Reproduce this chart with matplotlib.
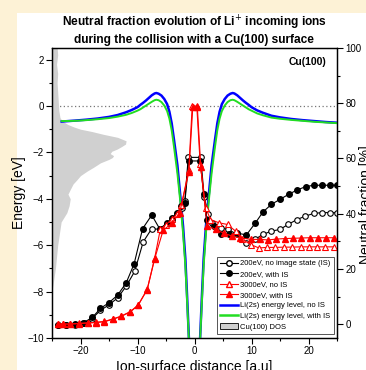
import matplotlib
matplotlib.use("Agg")
import matplotlib.pyplot as plt
from matplotlib.patches import Rectangle, Patch
from matplotlib.lines import Line2D
from matplotlib.ticker import MultipleLocator

plt.rcParams['font.family'] = ['Liberation Sans', 'DejaVu Sans']

# ---------------- data ----------------
# 200 eV, no image state (open circles)
x_200_noIS = [-24, -22.5, -21, -19.5, -18, -16.5, -15, -13.5, -12, -10.5, -9, -7.5, -6, -4.8,
              -3.9, -3.0, -2.2, -1.7, -1.1, 1.1, 1.7, 2.4, 3.1, 4.6, 5.9, 7.5, 9.1, 10.6, 12,
              13.5, 15, 16.4, 18, 19.4, 20.9, 22.4, 23.7, 25]
y_200_noIS = [-0.3, -0.3, -0.2, 0.3, 2.0, 5.0, 7.0, 9.5, 13.7, 19.1, 29.8, 34.6, 34.3, 36.2,
              37.9, 39.8, 42.2, 44.5, 60.4, 60.4, 46.0, 40.0, 36.7, 34.9, 34.3, 32.5, 29.5, 30.7, 32.5,
              33.7, 34.3, 36.1, 37.9, 39.1, 40.1, 40.4, 40.4, 40.4]

# 200 eV, with IS (filled circles)
x_200_IS = [-24, -22.5, -20.9, -19.4, -17.9, -16.5, -15, -13.5, -12, -10.6, -9.1, -7.5, -6.1,
            -4.8, -3.9, -3.0, -2.3, -1.7, -1.0, 1.0, 1.6, 2.2, 3.4, 4.7, 6.0, 7.5, 9.1, 10.7,
            12, 13.5, 15, 16.5, 18, 19.5, 20.9, 22.3, 23.7, 25]
y_200_IS = [-0.3, -0.3, 0.0, 0.6, 2.5, 5.7, 7.8, 10.5, 14.9, 21.8, 34.6, 39.5, 34.5,
            36.7, 38.5, 40.4, 42.8, 44.0, 59.1, 59.1, 47.0, 37.9, 35.5, 32.7, 32.5, 33.0, 32.3, 36.7,
            40.6, 43.4, 45.2, 47.0, 48.6, 49.8, 50.3, 50.3, 50.3, 50.3]

# 3000 eV, no IS (open triangles)
x_3000_noIS = [-24, -23, -21.8, -20.3, -18.7, -17.2, -15.8, -14.3, -12.9, -11.3, -9.9, -8.3, -7.0,
               -6.0, -5.0, -4.0, -3.0, -2.3, -1.0, -0.4, 0.4, 1.0, 2.0, 2.8, 4.3, 5.8, 7.2, 8.4,
               9.9, 11.3, 12.7, 14.2, 15.7, 17.1, 18.6, 20.0, 21.5, 22.9, 24.4]
y_3000_noIS = [0.1, 0.1, 0.1, 0.3, 0.5, 0.7, 1.0, 1.9, 2.9, 4.5, 6.9, 12.6, 23.8,
               34.3, 36.0, 38.0, 40.0, 43.0, 56.0, 79.0, 79.0, 58.0, 42.0, 37.9, 36.7, 36.1, 33.7, 30.7,
               28.8, 27.6, 27.8, 27.8, 27.9, 27.9, 28.0, 28.0, 28.0, 28.0, 28.0]

# 3000 eV, with IS (filled triangles)
x_3000_IS = [-24, -23, -21.8, -20.3, -18.7, -17.2, -15.8, -14.3, -12.9, -11.3, -9.9, -8.3, -7.0,
             -5.5, -3.9, -2.6, -1.0, -0.3, 0.5, 1.1, 2.2, 3.7, 5.1, 6.6, 8.0, 9.9, 11.5, 12.9,
             14.3, 15.8, 17.3, 18.7, 20.2, 21.6, 23.1, 24.5]
y_3000_IS = [0.0, 0.0, 0.0, 0.2, 0.4, 0.6, 0.9, 1.8, 2.8, 4.4, 6.8, 12.5, 23.6,
             34.0, 36.7, 40.4, 55.0, 78.5, 78.5, 57.0, 35.7, 34.3, 33.0, 31.9, 31.3, 30.7, 30.7, 30.5,
             30.8, 31.0, 31.1, 31.2, 31.3, 31.3, 31.3, 31.3]

# Li(2s) energy level (eV) vs distance
z_level = [-23.3, -21, -19, -17, -15, -13.5, -12, -11, -10, -9.5, -9, -8.5, -8, -7.5, -7,
           -6.7, -6.3, -5.8, -5.3, -4.8, -4.4, -4.0, -3.6, -3.0, -2.5, -2.0, -1.6, -1.3, -1.0, -0.8,
           0.8, 1.0, 1.3, 1.6, 2.0, 2.5, 3.0, 3.6, 4.0, 4.4, 4.8, 5.3, 5.8, 6.3, 6.7,
           7, 7.5, 8, 8.5, 9, 9.5, 10, 11, 12, 13.5, 15, 17, 19, 21, 23, 25]
E_noIS = [-0.67, -0.63, -0.59, -0.54, -0.47, -0.39, -0.27, -0.17, -0.05, 0.05, 0.14, 0.24,
          0.35, 0.46, 0.54, 0.56, 0.53, 0.45, 0.30, 0.08, -0.25, -0.75, -1.45, -2.55, -3.85, -5.2,
          -6.6, -8.2, -9.9, -11.0,
          -11.0, -9.9, -8.2, -6.6, -5.2, -3.85, -2.55, -1.45, -0.75, -0.25, 0.08, 0.30, 0.45, 0.53,
          0.56, 0.54, 0.46, 0.35, 0.24, 0.14, 0.05, -0.05, -0.19, -0.29, -0.42, -0.49, -0.56, -0.61,
          -0.65, -0.69, -0.72]
E_IS = [-0.65, -0.64, -0.61, -0.57, -0.52, -0.46, -0.38, -0.30, -0.20, -0.14, -0.06, 0.02,
        0.10, 0.18, 0.25, 0.27, 0.25, 0.17, 0.02, -0.22, -0.55, -1.05, -1.75, -2.9, -4.1, -5.5,
        -6.9, -8.4, -10.0, -11.0,
        -11.0, -10.0, -8.4, -6.9, -5.5, -4.1, -2.9, -1.75, -1.05, -0.55, -0.22, 0.02, 0.17, 0.25,
        0.27, 0.25, 0.18, 0.10, 0.02, -0.06, -0.14, -0.20, -0.32, -0.40, -0.50, -0.55, -0.60, -0.64,
        -0.68, -0.71, -0.74]

# Cu(100) DOS (energy, DOS width in distance units)
dos_E = [2.55, 2.2, 1.8, 1.4, 1.0, 0.6, 0.2, -0.2, -0.5, -0.65, -0.8, -0.9, -1.0, -1.1, -1.22,
         -1.35, -1.5, -1.64, -1.75, -1.86, -1.95, -2.05, -2.14, -2.22, -2.3, -2.45, -2.64, -2.8,
         -3.0, -3.2, -3.36, -3.6, -3.8, -4.0, -4.3, -4.6, -5.0, -5.5, -6.0, -6.5, -7.0, -7.5, -8.0]
dos_w = [0.9, 1.0, 0.8, 1.0, 0.9, 1.0, 1.1, 1.2, 1.4, 1.8, 2.8, 3.8, 5.0, 7.0, 9.0,
         11.5, 13.0, 12.9, 12.2, 11.4, 10.5, 10.2, 10.8, 10.6, 10.0, 8.5, 7.3, 6.2,
         5.0, 4.3, 3.7, 3.2, 2.8, 3.2, 3.0, 2.6, 1.6, 1.3, 1.0, 0.8, 0.6, 0.3, 0.0]

labels = ["200eV, no image state (IS)", "200eV, with IS", "3000eV, no IS", "3000eV, with IS",
          "Li(2s) energy level, no IS", "Li(2s) energy level, with IS", "Cu(100) DOS"]

title = "Neutral fraction evolution of Li$^{+}$ incoming ions\nduring the collision with a Cu(100) surface"

# ---------------- figure ----------------
W, H = 366, 370
fig = plt.figure(figsize=(W / 100, H / 100), dpi=100)
fig.patch.set_facecolor('#fdf2d6')
fig.patches.append(Rectangle((17 / W, 0), 1 - 17 / W, 1 - 13 / H, transform=fig.transFigure,
                             facecolor='white', edgecolor='none', zorder=-5))

ax = fig.add_axes([52 / W, 32 / H, 285 / W, 290 / H])
ax.set_xlim(-25, 25)
ax.set_ylim(-10, 2.5)
ax.patch.set_alpha(0)

ax.axhline(0, color='#777777', lw=0.9, ls=(0, (1, 2)), zorder=1)
ax.fill_betweenx(dos_E, -25, [-25 + w for w in dos_w], color='#d0d0d0', lw=0, zorder=2)
ax.plot(z_level, E_noIS, color='#0000ff', lw=1.8, zorder=3)
ax.plot(z_level, E_IS, color='#22dd22', lw=1.4, zorder=4)

ax.xaxis.set_major_locator(MultipleLocator(10))
ax.xaxis.set_minor_locator(MultipleLocator(5))
ax.yaxis.set_major_locator(MultipleLocator(2))
ax.yaxis.set_minor_locator(MultipleLocator(1))
ax.tick_params(which='both', direction='out', labelsize=7, width=0.8, pad=2)
ax.tick_params(which='major', length=4)
ax.tick_params(which='minor', length=2)
ax.set_ylabel("Energy [eV]", fontsize=10, labelpad=1)
ax.set_xlabel("Ion-surface distance [a.u]", fontsize=10, labelpad=3)

ax2 = ax.twinx()
ax2.set_ylim(-5, 100)
ax2.plot(x_200_noIS, y_200_noIS, color='black', lw=0.8, marker='o', ms=4, mfc='white', mec='black', mew=0.8)
ax2.plot(x_200_IS, y_200_IS, color='black', lw=0.8, marker='o', ms=4, mfc='black', mec='black')
ax2.plot(x_3000_noIS, y_3000_noIS, color='#ff0000', lw=0.8, marker='^', ms=4.5, mfc='white', mec='#ff0000', mew=0.8)
ax2.plot(x_3000_IS, y_3000_IS, color='#ff0000', lw=0.8, marker='^', ms=4.5, mfc='#ff0000', mec='#ff0000')
ax2.yaxis.set_major_locator(MultipleLocator(20))
ax2.yaxis.set_minor_locator(MultipleLocator(10))
ax2.tick_params(which='both', direction='out', labelsize=7, width=0.8, pad=2)
ax2.tick_params(which='major', length=4)
ax2.tick_params(which='minor', length=2)
for a in (ax, ax2):
    for s in a.spines.values():
        s.set_linewidth(0.9)

ax2.text(0.895, 0.952, "Cu(100)", transform=ax2.transAxes, fontsize=7.5, fontweight='bold',
         ha='center', va='center')

handles = [
    Line2D([], [], color='black', lw=0.8, marker='o', ms=4, mfc='white', mec='black'),
    Line2D([], [], color='black', lw=0.8, marker='o', ms=4, mfc='black', mec='black'),
    Line2D([], [], color='#ff0000', lw=0.8, marker='^', ms=4.5, mfc='white', mec='#ff0000'),
    Line2D([], [], color='#ff0000', lw=0.8, marker='^', ms=4.5, mfc='#ff0000', mec='#ff0000'),
    Line2D([], [], color='#0000ff', lw=1.8),
    Line2D([], [], color='#22dd22', lw=1.8),
    Patch(facecolor='#d0d0d0', edgecolor='black', lw=0.6),
]
leg = ax2.legend(handles, labels, loc='lower right', bbox_to_anchor=(0.988, 0.015), fontsize=5.5,
                 frameon=True, fancybox=False, edgecolor='#555555', framealpha=1,
                 handlelength=2.3, handletextpad=0.3, labelspacing=0.42, borderpad=0.4,
                 borderaxespad=0)
leg.get_frame().set_linewidth(0.7)

fig.text(194 / W, 1 - 30 / H, title, ha='center', va='center', fontsize=8.6, fontweight='bold',
         linespacing=1.25)
fig.text(359 / W, 1 - 205 / H, "Neutral fraction [%]", rotation=90, ha='left', va='center',
         fontsize=10)

fig.savefig("out.png", dpi=100, facecolor=fig.get_facecolor())
